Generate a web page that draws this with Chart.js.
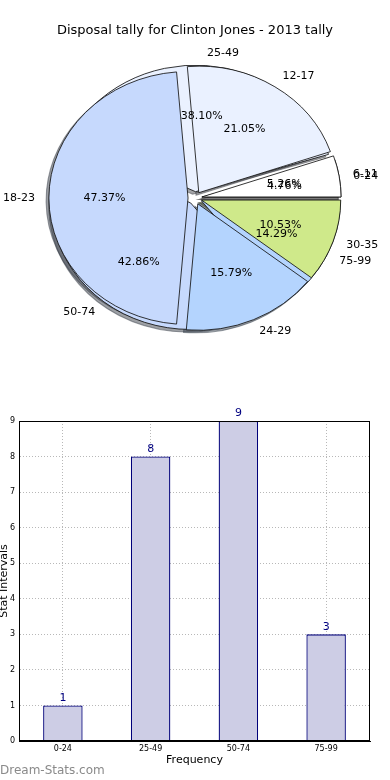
<!DOCTYPE html>
<html><head><meta charset="utf-8">
<script src="https://cdn.jsdelivr.net/npm/chart.js@4.4.0/dist/chart.umd.min.js"></script>
<style>
html,body{margin:0;padding:0;background:#fff;width:390px;height:780px;overflow:hidden;position:relative;font-family:"DejaVu Sans",sans-serif;}
#title{position:absolute;left:0;width:390px;top:22px;line-height:16px;text-align:center;font-size:13px;color:#000;}
canvas{position:absolute;left:0;}
#binPie,#agePie{top:0;}
#bar{top:400px;}
#wm{position:absolute;left:0;top:762px;font-size:12px;color:#8a8a8a;line-height:16px;}
</style></head><body>
<canvas id="binPie" width="390" height="396"></canvas>
<canvas id="agePie" width="390" height="396"></canvas>
<div id="title">Disposal tally for Clinton Jones - 2013 tally</div>
<canvas id="bar" width="390" height="370"></canvas>
<div id="wm">Dream-Stats.com</div>
<script>
// ---- data ----
const ageLabels = ['6-11','12-17','18-23','24-29','30-35'];
const ageCounts = [1,4,9,3,2];
const ageColors = ['#ffffff','#eaf1ff','#c6d9fd','#b4d4fe','#cfe98a'];
const binLabels = ['0-24','25-49','50-74','75-99'];
const binCounts = [1,8,9,3];
const binColors = ['#ffffff','#eaf1ff','#c6d9fd','#b4d4fe'];
const barMax = 9;

// ---- pie geometry (matplotlib-like: ccw from 3 o'clock, exploded, elliptical) ----
const SX = 1.1, EXPLODE = 0.05, LABEL_DIST = 1.1, PCT_DIST = 0.6, RADIUS = 126.5;
const FONT = '"DejaVu Sans", sans-serif';
Chart.defaults.font.family = FONT;

function shadeColor(hex){
  const h = hex.replace('#','');
  const r = parseInt(h.substr(0,2),16), g = parseInt(h.substr(2,2),16), b = parseInt(h.substr(4,2),16);
  return 'rgba(' + Math.round(r*0.3) + ',' + Math.round(g*0.3) + ',' + Math.round(b*0.3) + ',0.5)';
}
function mid(a){ return (a.startAngle + a.endAngle)/2; }
function shadowPass(ctx, arcs){
  arcs.forEach(a => {
    const m = mid(a), R = a.outerRadius, e = EXPLODE*R;
    const x = a.x + e*Math.cos(m) - 0.02*R, y = a.y + e*Math.sin(m) + 0.02*R;
    const sc = shadeColor(a.options.backgroundColor);
    ctx.beginPath(); ctx.moveTo(x,y); ctx.arc(x,y,R,a.startAngle,a.endAngle); ctx.closePath();
    ctx.fillStyle = sc; ctx.strokeStyle = sc; ctx.lineWidth = 1; ctx.fill(); ctx.stroke();
  });
}
function wedgePass(ctx, arcs){
  arcs.forEach(a => {
    const m = mid(a), e = EXPLODE*a.outerRadius;
    ctx.save(); ctx.translate(e*Math.cos(m), e*Math.sin(m)); a.draw(ctx); ctx.restore();
  });
}
function ellipseTransform(ctx, a){ ctx.translate(a.x,a.y); ctx.scale(SX,1); ctx.translate(-a.x,-a.y); }

let ageChart = null, binChart = null;

const binDraw = {
  id:'binDraw',
  beforeDatasetsDraw(chart){
    const ctx = chart.ctx, arcs = chart.getDatasetMeta(0).data;
    ctx.save(); ellipseTransform(ctx, arcs[0]);
    shadowPass(ctx, arcs);
    if (ageChart) shadowPass(ctx, ageChart.getDatasetMeta(0).data);
    wedgePass(ctx, arcs);
    ctx.restore();
    return false;
  }
};
function drawPieTexts(ctx, chart){
  const arcs = chart.getDatasetMeta(0).data;
  const vals = chart.data.datasets[0].data;
  const total = vals.reduce((s,v)=>s+v,0);
  ctx.font = '11px ' + FONT; ctx.fillStyle = '#000'; ctx.textBaseline = 'middle';
  arcs.forEach((a,i) => {
    const m = mid(a), R = a.outerRadius, c = Math.cos(m), s = Math.sin(m);
    const lr = (EXPLODE + LABEL_DIST)*R, pr = (EXPLODE + PCT_DIST)*R;
    ctx.textAlign = c > 0 ? 'left' : 'right';
    ctx.fillText(chart.data.labels[i], a.x + SX*lr*c, a.y + lr*s);
    ctx.textAlign = 'center';
    ctx.fillText((vals[i]/total*100).toFixed(2) + '%', a.x + SX*pr*c, a.y + pr*s);
  });
}
const ageDraw = {
  id:'ageDraw',
  beforeDatasetsDraw(chart){
    const ctx = chart.ctx, arcs = chart.getDatasetMeta(0).data;
    ctx.save(); ellipseTransform(ctx, arcs[0]);
    wedgePass(ctx, arcs);
    ctx.restore();
    return false;
  },
  afterDraw(chart){
    const ctx = chart.ctx;
    ctx.save();
    if (binChart) drawPieTexts(ctx, binChart);
    drawPieTexts(ctx, chart);
    ctx.restore();
  }
};

function pieConfig(labels, counts, colors, plugin){
  return {
    type:'pie',
    data:{
      labels: labels.slice().reverse(),
      datasets:[{
        data: counts.slice().reverse(),
        backgroundColor: colors.slice().reverse(),
        borderColor:'#111', borderWidth:0.8, borderJoinStyle:'miter', offset:0
      }]
    },
    options:{
      responsive:false, animation:false, events:[],
      rotation:90, radius:RADIUS,
      layout:{padding:{left:0,right:0,top:0,bottom:-1}},
      plugins:{legend:{display:false}, tooltip:{enabled:false}, title:{display:false}}
    },
    plugins:[plugin]
  };
}

binChart = new Chart(document.getElementById('binPie'), pieConfig(binLabels, binCounts, binColors, binDraw));
ageChart = new Chart(document.getElementById('agePie'), pieConfig(ageLabels, ageCounts, ageColors, ageDraw));
binChart.update('none');
ageChart.update('none');

// ---- bar chart ----
const barExtras = {
  id:'barExtras',
  afterDraw(chart){
    const ctx = chart.ctx, ca = chart.chartArea;
    ctx.save();
    ctx.strokeStyle = '#000'; ctx.lineWidth = 1;
    ctx.strokeRect(Math.round(ca.left)+0.5, Math.round(ca.top)+0.5, Math.round(ca.right-ca.left)-1, Math.round(ca.bottom-ca.top)-1);
    const meta = chart.getDatasetMeta(0);
    ctx.font = '11px ' + FONT; ctx.fillStyle = '#000080'; ctx.textAlign = 'center'; ctx.textBaseline = 'bottom';
    meta.data.forEach((b,i) => {
      ctx.fillText(String(chart.data.datasets[0].data[i]), b.x, b.y - 2);
    });
    ctx.restore();
  }
};

new Chart(document.getElementById('bar'), {
  type:'bar',
  data:{
    labels: binLabels,
    datasets:[{
      data: binCounts,
      backgroundColor:'#cdcde5', borderColor:'#00007a', borderWidth:1.3,
      barPercentage:0.45, categoryPercentage:1.0
    }]
  },
  options:{
    responsive:false, animation:false, events:[],
    layout:{padding:{top:21,right:20,left:0,bottom:0}},
    plugins:{legend:{display:false}, tooltip:{enabled:false}},
    scales:{
      x:{
        z:1,
        grid:{offset:false, color:'#b8b8b8', lineWidth:1, drawTicks:false},
        border:{display:true, color:'#000', dash:[1,2]},
        ticks:{font:{size:8}, color:'#000', padding:3},
        title:{display:true, text:'Frequency', font:{size:11}, color:'#000', padding:{top:0,bottom:3}},
        afterFit(s){ s.height = 29; }
      },
      y:{
        z:1, min:0, max:barMax,
        grid:{color:'#b8b8b8', lineWidth:1, drawTicks:false},
        border:{display:true, color:'#000', dash:[1,2]},
        ticks:{stepSize:1, font:{size:8}, color:'#000', padding:4},
        title:{display:true, text:'Stat Intervals', font:{size:11}, color:'#000', padding:{top:-2,bottom:0}},
        afterFit(s){ s.width = 19; }
      }
    }
  },
  plugins:[barExtras]
});
</script>
</body></html>
